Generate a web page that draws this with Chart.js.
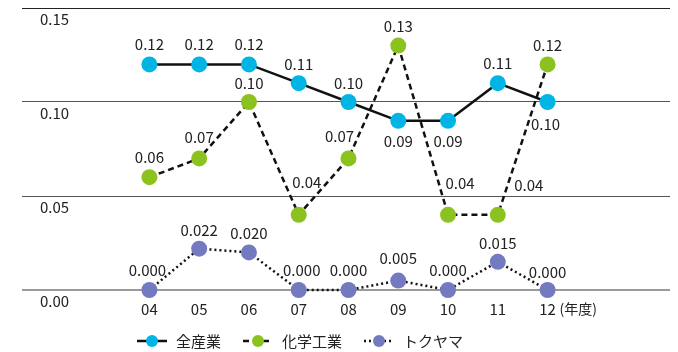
<!DOCTYPE html>
<html lang="ja">
<head>
<meta charset="utf-8">
<script src="https://cdn.jsdelivr.net/npm/chart.js@4.4.1/dist/chart.umd.min.js"></script>
<style>
html, body { margin: 0; padding: 0; background: #fff; }
#wrap { width: 678px; height: 352px; position: relative; }
</style>
</head>
<body>
<div id="wrap"><canvas id="chart"></canvas></div>
<script>
// 年度
const years = ["04", "05", "06", "07", "08", "09", "10", "11", "12"];
// 全産業
const zenSangyo = [0.12, 0.12, 0.12, 0.11, 0.10, 0.09, 0.09, 0.11, 0.10];
// 化学工業
const kagaku = [0.06, 0.07, 0.10, 0.04, 0.07, 0.13, 0.04, 0.04, 0.12];
// トクヤマ
const tokuyama = [0.000, 0.022, 0.020, 0.000, 0.000, 0.005, 0.000, 0.015, 0.000];
const seriesNames = ["全産業", "化学工業", "トクヤマ"];
const yTicks = [0, 0.05, 0.10, 0.15];

// 見た目の設定
const FONT = '"Noto Sans CJK JP", "Noto Sans", sans-serif';
const colores = ["#00b4e4", "#8cc21f", "#747abf"];
const dashes = [[], [6, 4], [2, 3]];
const decimals = [2, 2, 3];

// 値ラベルの位置 (点からのずれ, px)
const labelOffsets = [
  [[0, -20], [0, -20], [0, -20], [0, -19], [0, -19], [0, 20], [0, 20], [0, -20], [-2, 22]],
  [[0, -20], [0, -21], [0, -19], [8, -33], [-9, -22], [0, -19], [12, -32], [31, -30], [0, -19]],
  [[-2, -20], [0, -18], [0, -19], [3, -20], [0, -20], [0, -22], [0, -20], [0, -19], [0, -18]]
];

const allSeries = [zenSangyo, kagaku, tokuyama];

// 値ラベル
const valueLabels = {
  id: 'valueLabels',
  afterDatasetsDraw(chart) {
    const ctx = chart.ctx;
    ctx.save();
    ctx.font = '15px ' + FONT;
    ctx.fillStyle = '#222';
    ctx.textAlign = 'center';
    ctx.textBaseline = 'middle';
    chart.data.datasets.forEach((ds, d) => {
      chart.getDatasetMeta(d).data.forEach((pt, i) => {
        const off = labelOffsets[d][i];
        ctx.fillText(allSeries[d][i].toFixed(decimals[d]), pt.x + off[0], pt.y + off[1]);
      });
    });
    ctx.restore();
  }
};

// 軸の目盛り、凡例と（年度）
const extras = {
  id: 'extras',
  afterDraw(chart) {
    const ctx = chart.ctx;
    const xs = chart.scales.x;
    const ys = chart.scales.y;
    const base = chart.chartArea.bottom;
    ctx.save();
    ctx.fillStyle = '#222';
    ctx.textBaseline = 'middle';
    ctx.font = '15px ' + FONT;

    ctx.textAlign = 'left';
    yTicks.forEach(v => {
      ctx.fillText(v.toFixed(2), chart.chartArea.left + 18, ys.getPixelForValue(v) + 11);
    });

    ctx.textAlign = 'center';
    years.forEach((y, i) => {
      ctx.fillText(y, xs.getPixelForValue(i), base + 19);
    });

    ctx.textAlign = 'left';
    ctx.font = '14px ' + FONT;
    ctx.fillText('(年度)', xs.getPixelForValue(years.length - 1) + 12, base + 19);

    // 凡例
    ctx.font = '15px ' + FONT;
    const symW = 30, gap = 9, itemGap = 22, ly = 341;
    const widths = seriesNames.map(n => symW + gap + ctx.measureText(n).width);
    const total = widths.reduce((a, b) => a + b, 0) + itemGap * (widths.length - 1);
    let x = 300 - total / 2;
    seriesNames.forEach((name, d) => {
      ctx.strokeStyle = '#111';
      ctx.lineWidth = 2.5;
      ctx.setLineDash(dashes[d]);
      ctx.beginPath();
      ctx.moveTo(x, ly);
      ctx.lineTo(x + symW, ly);
      ctx.stroke();
      ctx.setLineDash([]);
      ctx.fillStyle = colores[d];
      ctx.beginPath();
      ctx.arc(x + symW / 2, ly, 6, 0, Math.PI * 2);
      ctx.fill();
      ctx.fillStyle = '#222';
      ctx.fillText(name, x + symW + gap, ly);
      x += widths[d] + itemGap;
    });
    ctx.restore();
  }
};

const datasets = allSeries.map((serie, d) => ({
  label: seriesNames[d],
  data: serie.map((v, i) => ({ x: i, y: v })),
  borderColor: '#111',
  borderWidth: 2.5,
  borderDash: dashes[d],
  pointRadius: 8,
  pointHoverRadius: 8,
  pointBorderWidth: 0,
  pointBackgroundColor: colores[d],
  tension: 0,
  clip: false
}));

new Chart(document.getElementById('chart'), {
  type: 'line',
  data: { datasets: datasets },
  options: {
    responsive: true,
    maintainAspectRatio: false,
    animation: false,
    layout: { padding: { left: 22, right: 5, top: 8, bottom: 62 } },
    plugins: {
      legend: { display: false },
      tooltip: { enabled: false }
    },
    scales: {
      x: {
        type: 'linear',
        min: -2.56,
        max: 10.46,
        grid: { display: false, drawTicks: false },
        border: { display: false },
        ticks: { display: false }
      },
      y: {
        min: 0,
        max: 0.15,
        afterBuildTicks: axis => { axis.ticks = yTicks.map(v => ({ value: v })); },
        border: { display: false },
        grid: {
          drawTicks: false,
          color: c => c.tick.value === 0 ? '#9a9a9a' : (c.tick.value >= 0.15 ? '#222' : '#555'),
          lineWidth: c => c.tick.value === 0 ? 2 : 1
        },
        ticks: { display: false }
      }
    }
  },
  plugins: [valueLabels, extras]
});
</script>
</body>
</html>
